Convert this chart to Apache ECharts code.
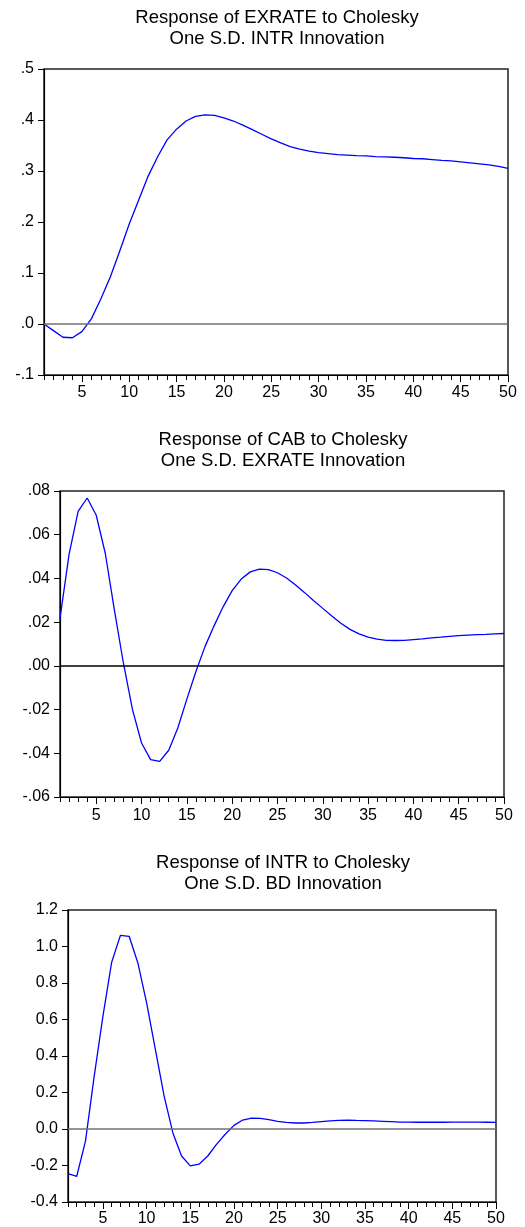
<!DOCTYPE html>
<html><head><meta charset="utf-8">
<script src="https://cdn.jsdelivr.net/npm/echarts@6/dist/echarts.min.js"></script>
<style>html,body{margin:0;padding:0;background:#fff}#c{width:525px;height:1227px}</style>
</head><body><div id="c"></div>
<script>
const periods = [1,2,3,4,5,6,7,8,9,10,11,12,13,14,15,16,17,18,19,20,21,22,23,24,25,26,27,28,29,30,31,32,33,34,35,36,37,38,39,40,41,42,43,44,45,46,47,48,49,50];
const xTickLabels = ['5','10','15','20','25','30','35','40','45','50'];

const exrateResp = [0.000,-0.013,-0.026,-0.027,-0.015,0.010,0.049,0.092,0.143,0.196,
  0.243,0.290,0.328,0.361,0.382,0.398,0.407,0.410,0.409,0.404,
  0.398,0.390,0.381,0.372,0.363,0.355,0.348,0.343,0.339,0.336,
  0.334,0.332,0.331,0.330,0.3297,0.328,0.3277,0.327,0.326,0.3245,
  0.324,0.3225,0.321,0.320,0.318,0.316,0.314,0.312,0.309,0.305];

const cabResp = [0.0217,0.051,0.0707,0.0768,0.0689,0.0514,0.0256,0.0012,-0.020,-0.0353,
  -0.0429,-0.0437,-0.0386,-0.0284,-0.0152,-0.0026,0.0088,0.0183,0.027,0.0344,
  0.0397,0.043,0.0443,0.044,0.0426,0.0402,0.037,0.0335,0.0298,0.0263,
  0.0228,0.0195,0.0167,0.0146,0.0131,0.0122,0.0117,0.0116,0.0117,0.012,
  0.0123,0.0128,0.0131,0.0135,0.0138,0.0141,0.0143,0.0144,0.0146,0.0148];

const intrResp = [-0.244,-0.259,-0.066,0.290,0.618,0.914,1.061,1.056,0.910,0.691,
  0.436,0.181,-0.020,-0.148,-0.202,-0.193,-0.148,-0.084,-0.029,0.020,
  0.049,0.060,0.058,0.051,0.042,0.036,0.033,0.033,0.036,0.040,
  0.044,0.047,0.049,0.047,0.046,0.044,0.042,0.040,0.038,0.038,
  0.037,0.037,0.037,0.037,0.038,0.038,0.038,0.038,0.037,0.036];

const titles = [
  'Response of EXRATE to Cholesky\nOne S.D. INTR Innovation',
  'Response of CAB to Cholesky\nOne S.D. EXRATE Innovation',
  'Response of INTR to Cholesky\nOne S.D. BD Innovation'
];
const yRanges = [
  {min:-0.1, max:0.5, interval:0.1},
  {min:-0.06, max:0.08, interval:0.02},
  {min:-0.4, max:1.2, interval:0.2}
];
const seriesList = [exrateResp, cabResp, intrResp];
</script>
<script>
const FONT = 'Liberation Sans, Arial, sans-serif';
const grids = [
  {left:44, top:69, width:464, height:306},
  {left:60, top:491, width:444, height:306},
  {left:68, top:910, width:428, height:293}
];
const titlePos = [{x:277, y:7.5},{x:283, y:429.5},{x:283, y:852}];
const labelMargins = [10, 11, 9];
const zeroColors = ['#707070', '#000000', '#707070'];
const fmts = [
  v => v.toFixed(1).replace(/^(-?)0\./, '$1.'),
  v => v.toFixed(2).replace(/^(-?)0\./, '$1.'),
  v => v.toFixed(1)
];

const option = {animation:false, backgroundColor:'#fff', title:[], grid:[], xAxis:[], yAxis:[], series:[]};
for (let i = 0; i < 3; i++) {
  option.title.push({
    text: titles[i], left: titlePos[i].x, top: titlePos[i].y, textAlign:'center', padding:0,
    textStyle:{fontFamily:FONT, fontSize:18.5, fontWeight:'normal', color:'#000', lineHeight:21}
  });
  option.grid.push(Object.assign({show:true, borderColor:'#222', borderWidth:1.5, backgroundColor:'transparent'}, grids[i]));
  option.xAxis.push({
    type:'category', data:periods, boundaryGap:false, gridIndex:i, position:'bottom',
    axisLine:{show:true, onZero:false, lineStyle:{color:'#000', width:1.2}},
    axisTick:{show:true, interval:0, length:5, inside:false, lineStyle:{color:'#000', width:1}},
    axisLabel:{show:true, interval:(idx, val) => xTickLabels.indexOf(String(val)) >= 0,
      margin:labelMargins[i], fontFamily:FONT, fontSize:16, color:'#000'},
    splitLine:{show:false}
  });
  option.xAxis.push({
    type:'category', data:periods, boundaryGap:false, gridIndex:i, position:'bottom',
    axisLine:{show:false, onZero:false},
    axisTick:{show:true, interval:(idx, val) => xTickLabels.indexOf(String(val)) >= 0, length:7, lineStyle:{color:'#000', width:1}},
    axisLabel:{show:false}, splitLine:{show:false}
  });
  option.yAxis.push({
    type:'value', gridIndex:i, min:yRanges[i].min, max:yRanges[i].max, interval:yRanges[i].interval,
    axisLine:{show:true, onZero:false, lineStyle:{color:'#000', width:1.2}},
    axisTick:{show:true, length:6, lineStyle:{color:'#000', width:1}},
    axisLabel:{show:true, margin:10, fontFamily:FONT, fontSize:16, color:'#000', formatter: fmts[i]},
    splitLine:{show:false}
  });
  option.series.push({
    type:'line', xAxisIndex:2*i, yAxisIndex:i, data:seriesList[i], showSymbol:false, symbol:'none',
    lineStyle:{color:'#0000ff', width:1.3}, z:3,
    markLine:{silent:true, symbol:'none', label:{show:false}, animation:false,
      lineStyle:{color:zeroColors[i], width:1.6, type:'solid'}, data:[{yAxis:0}]}
  });
}
const chart = echarts.init(document.getElementById('c'));
chart.setOption(option);
</script>
</body></html>
